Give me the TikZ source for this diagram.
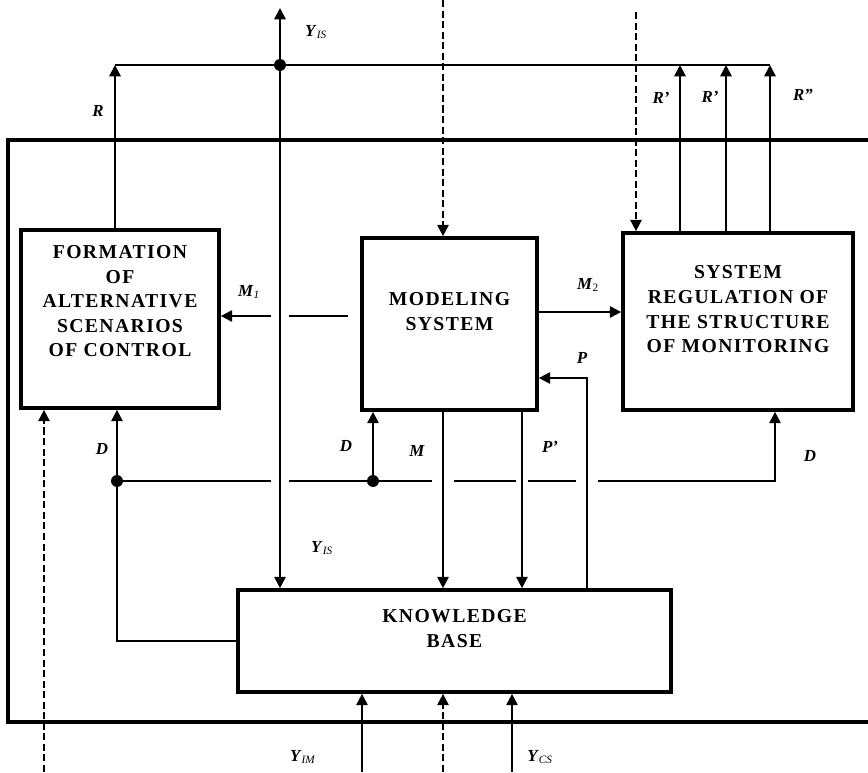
\documentclass[tikz,border=0pt]{standalone}
\usepackage{fontspec}
\setmainfont{Liberation Serif}
\newfontfamily\blockfont{Liberation Serif}[LetterSpace=7]
\usetikzlibrary{positioning, arrows.meta, calc, backgrounds}

\newcommand{\blocktext}[2]{\raisebox{#1}[0pt][0pt]{\begin{tabular}{@{}c@{}}#2\end{tabular}}}
\newcommand{\sig}[2]{\textbf{\textit{#1}}\textsubscript{\textit{#2}}}

\tikzset{
    block/.style={draw, line width=2.6pt, inner sep=0pt,
        font=\blockfont\bfseries\fontsize{14}{17.5}\selectfont},
    wire/.style={line width=1.4pt},
    arr/.style={wire, -{Triangle[length=8pt, width=8pt]}},
    dwire/.style={dash pattern=on 5pt off 2.5pt},
    gap/.style={preaction={draw, white, line width=#1}},
    junction/.style={circle, fill, inner sep=0pt, minimum size=8.5pt},
    sig/.style={font=\fontsize{12}{14}\selectfont},
}

\begin{document}
\begin{tikzpicture}[x=0.025cm, y=-0.025cm]
    \useasboundingbox (0,0) rectangle (868,772);

    % blocks
    \node[block, minimum width=4.95cm, minimum height=4.45cm] (fasc) at (120,319)
        {\blocktext{8pt}{FORMATION\\OF\\ALTERNATIVE\\SCENARIOS\\OF CONTROL}};
    \node[block, minimum width=4.375cm, minimum height=4.3cm] (ms) at (449.5,324)
        {\blocktext{4pt}{MODELING\\SYSTEM}};
    \node[block, minimum width=5.75cm, minimum height=4.425cm] (srsm) at (738,321.5)
        {\blocktext{4pt}{SYSTEM\\REGULATION OF\\THE STRUCTURE\\OF MONITORING}};
    \node[block, minimum width=10.825cm, minimum height=2.55cm] (kb) at (454.5,641)
        {\blocktext{4pt}{KNOWLEDGE\\BASE}};

    % fixed points
    \coordinate (busL) at (115,65);
    \coordinate (yis) at (280,65);
    \coordinate (yisTop) at (280,8);
    \coordinate (r1) at (680,65);
    \coordinate (r2) at (726,65);
    \coordinate (busR) at (770,65);
    \coordinate (inM) at (443,0);
    \coordinate (inR) at (636,12);
    \coordinate (inL) at (44,772);
    \coordinate (inB) at (443,772);
    \coordinate (yim) at (362,772);
    \coordinate (ycs) at (512,772);
    \coordinate (m1row) at (0,316);
    \coordinate (m2row) at (0,312);
    \coordinate (prow) at (0,378);
    \coordinate (drow) at (0,481);
    \coordinate (colPp) at (522,0);
    \coordinate (colP) at (587,0);
    \coordinate (colD) at (775,0);

    \node[junction] (dotT) at (yis) {};
    \node[junction] (dotL) at (117,481) {};
    \node[junction] (dotM) at (373,481) {};

    % lines that are broken where others cross them
    \begin{scope}[on background layer]
        \draw[arr] (dotL) -- (dotM) -- (colD |- drow) -- (colD |- srsm.south);
        \draw[arr] ($(ms.west |- m1row)+(-12,0)$) -- (fasc.east |- m1row);
        \draw[arr, gap=13.5pt] (yis) -- (yis |- kb.north);
        \draw[arr, gap=15pt] (inM |- ms.south) -- (inM |- kb.north);
        \draw[arr, gap=8pt] (colPp |- ms.south) -- (colPp |- kb.north);
        \draw[arr, gap=15pt] (colP |- kb.north) -- (colP |- prow) -- (ms.east |- prow);
    \end{scope}

    % other connectors
    \draw[wire] (busL) -- (busR);
    \draw[arr] (dotT) -- (yisTop);
    \draw[arr] (busL |- fasc.north) -- (busL);
    \draw[arr] (ms.east |- m2row) -- (srsm.west |- m2row);
    \draw[arr] (r1 |- srsm.north) -- (r1);
    \draw[arr] (r2 |- srsm.north) -- (r2);
    \draw[arr] (busR |- srsm.north) -- (busR);
    \draw[arr] (dotM) -- (dotM |- ms.south);
    \draw[arr] (kb.west) -| (dotL |- fasc.south);
    \draw[arr, dwire] (inM) -- (inM |- ms.north);
    \draw[arr, dwire] (inR) -- (inR |- srsm.north);
    \draw[arr, dwire] (inL) -- (inL |- fasc.south);
    \draw[arr, dwire] (inB) -- (inB |- kb.south);
    \draw[arr] (yim) -- (yim |- kb.south);
    \draw[arr] (ycs) -- (ycs |- kb.south);

    % frame
    \draw[line width=2.8pt] (868,140) -| (8,722) -- (868,722);

    % labels
    \node[sig] (lYisT) at (316,32) {\sig{Y}{IS}};
    \node[sig] (lR) at (98,111) {\textbf{\textit{R}}};
    \node[sig] (lR1) at (661,98) {\textbf{\textit{R'}}};
    \node[sig] (lR2) at (710,97) {\textbf{\textit{R'}}};
    \node[sig] (lR3) at (803,95) {\textbf{\textit{R''}}};
    \node[sig] (lM1) at (249,292) {\sig{M}{1}};
    \node[sig] (lM2) at (588,285) {\textbf{\textit{M}}\textsubscript{2}};
    \node[sig] (lDL) at (102,449) {\textbf{\textit{D}}};
    \node[sig] (lDM) at (346,446) {\textbf{\textit{D}}};
    \node[sig] (lM) at (417,451) {\textbf{\textit{M}}};
    \node[sig] (lPp) at (550,447) {\textbf{\textit{P'}}};
    \node[sig] (lP) at (582,358) {\textbf{\textit{P}}};
    \node[sig] (lDR) at (810,456) {\textbf{\textit{D}}};
    \node[sig] (lYisM) at (322,548) {\sig{Y}{IS}};
    \node[sig] (lYim) at (303,757) {\sig{Y}{IM}};
    \node[sig] (lYcs) at (540,757) {\sig{Y}{CS}};
\end{tikzpicture}
\end{document}
